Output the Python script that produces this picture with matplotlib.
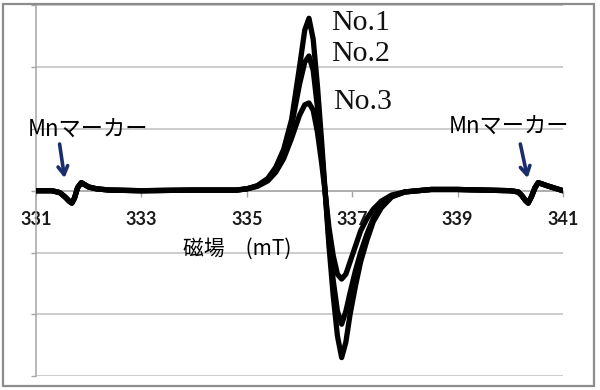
import matplotlib
matplotlib.use("Agg")
import matplotlib.pyplot as plt
from matplotlib.patches import Rectangle
import numpy as np

# --- data (field in mT, signal in grid units) ---
x_left = [331.0, 331.3, 331.45, 331.55, 331.63, 331.68, 331.73, 331.79, 331.86,
          331.92, 332.0, 332.15, 332.4, 333.0, 334.0, 334.5]
y_left = [0.0, 0.0, -0.03, -0.1, -0.17, -0.2, -0.12, 0.05, 0.13,
          0.1, 0.06, 0.03, 0.01, 0.0, 0.01, 0.01]

x_main = [334.8, 335.0, 335.2, 335.4, 335.55, 335.7, 335.85, 336.0, 336.1, 336.18,
          336.26, 336.34, 336.42, 336.49, 336.56, 336.64, 336.72, 336.8, 336.88,
          336.96, 337.06, 337.16, 337.28, 337.4, 337.55, 337.75, 338.0, 338.5]
no1_main = [0.01, 0.03, 0.08, 0.2, 0.38, 0.67, 1.15, 2.0, 2.6, 2.79,
            2.45, 1.7, 0.8, -0.05, -0.9, -1.7, -2.35, -2.7, -2.45,
            -2.0, -1.55, -1.15, -0.8, -0.5, -0.28, -0.1, -0.02, 0.02]
no2_main = [0.01, 0.03, 0.08, 0.19, 0.36, 0.63, 1.05, 1.72, 2.08, 2.18,
            1.95, 1.35, 0.65, -0.05, -0.8, -1.45, -1.95, -2.16, -1.95,
            -1.65, -1.3, -1.0, -0.7, -0.45, -0.25, -0.09, -0.02, 0.02]
no3_main = [0.01, 0.03, 0.07, 0.16, 0.3, 0.52, 0.85, 1.22, 1.39, 1.42,
            1.3, 0.95, 0.45, -0.05, -0.6, -1.05, -1.35, -1.43, -1.35,
            -1.15, -0.9, -0.65, -0.45, -0.3, -0.17, -0.07, -0.02, 0.02]

x_right = [339.0, 339.5, 340.0, 340.15, 340.22, 340.29, 340.34, 340.4, 340.47,
           340.53, 340.6, 340.7, 340.85, 341.0]
y_right = [0.02, 0.01, 0.0, -0.02, -0.08, -0.16, -0.2, -0.1, 0.05,
           0.13, 0.11, 0.08, 0.04, 0.0]

series_names = ["No.1", "No.2", "No.3"]
x_ticks = [331, 333, 335, 337, 339, 341]
y_grid = [-3, -2, -1, 0, 1, 2, 3]

plt.rcParams['font.family'] = ['Noto Sans CJK JP', 'DejaVu Sans']

fig = plt.figure(figsize=(6.0, 3.9), dpi=100)
fig.patch.set_facecolor("white")
fig.patches.append(Rectangle((3 / 600, 4 / 390), 591 / 600, 382 / 390,
                             transform=fig.transFigure, fill=False,
                             edgecolor="#8c8c8c", linewidth=1.6))

ax = fig.add_axes([0.06, 0.0356, 0.8783, 0.9508])

x_all = np.concatenate([x_left, x_main, x_right])
for main in (no1_main, no2_main, no3_main):
    y_all = np.concatenate([y_left, main, y_right])
    ax.plot(x_all, y_all, color="black", linewidth=3.8, solid_capstyle="round",
            solid_joinstyle="round", zorder=3)

ax.set_xlim(331, 341)
ax.set_ylim(-3, 3)

# axes look
ax.spines["top"].set_visible(False)
ax.spines["right"].set_visible(False)
ax.spines["bottom"].set_position(("data", 0))
ax.spines["bottom"].set_color("#a6a6a6")
ax.spines["left"].set_color("#a6a6a6")
ax.spines["bottom"].set_linewidth(1.1)
ax.spines["left"].set_linewidth(1.1)

ax.set_yticks(y_grid)
ax.set_yticklabels([])
ax.yaxis.grid(True, color="#bfbfbf", linewidth=1.1)
ax.set_axisbelow(True)
ax.tick_params(axis="y", direction="out", length=3.5, color="#a6a6a6", width=1)

ax.set_xticks(x_ticks)
ax.set_xticklabels([str(t) for t in x_ticks], family="Lato", fontweight="bold",
                   fontsize=13, color="#1a1a1a")
ax.tick_params(axis="x", direction="out", length=4.5, color="#a6a6a6", width=1,
               pad=10)

# series labels
label_pos = [(336.6, 2.71), (336.6, 2.21), (336.64, 1.44)]
for name, (lx, ly) in zip(series_names, label_pos):
    ax.text(lx, ly, name, family="Liberation Serif", fontsize=21.5,
            ha="left", va="center", color="#111111")

# Mn marker annotations
navy = "#1c2d6b"
ax.text(331.98, 0.97, "Mnマーカー", fontsize=16, ha="center", va="center")
ax.text(339.98, 1.02, "Mnマーカー", fontsize=16, ha="center", va="center")
ax.annotate("", xy=(331.55, 0.16), xytext=(331.44, 0.8),
            arrowprops=dict(arrowstyle="->,head_length=0.6,head_width=0.35",
                            color=navy, lw=2.6))
ax.annotate("", xy=(340.34, 0.16), xytext=(340.18, 0.8),
            arrowprops=dict(arrowstyle="->,head_length=0.6,head_width=0.35",
                            color=navy, lw=2.6))

ax.text(334.81, -0.94, "磁場　(mT)", fontsize=15, ha="center", va="center")

fig.savefig("out.png", dpi=100, facecolor="white")
